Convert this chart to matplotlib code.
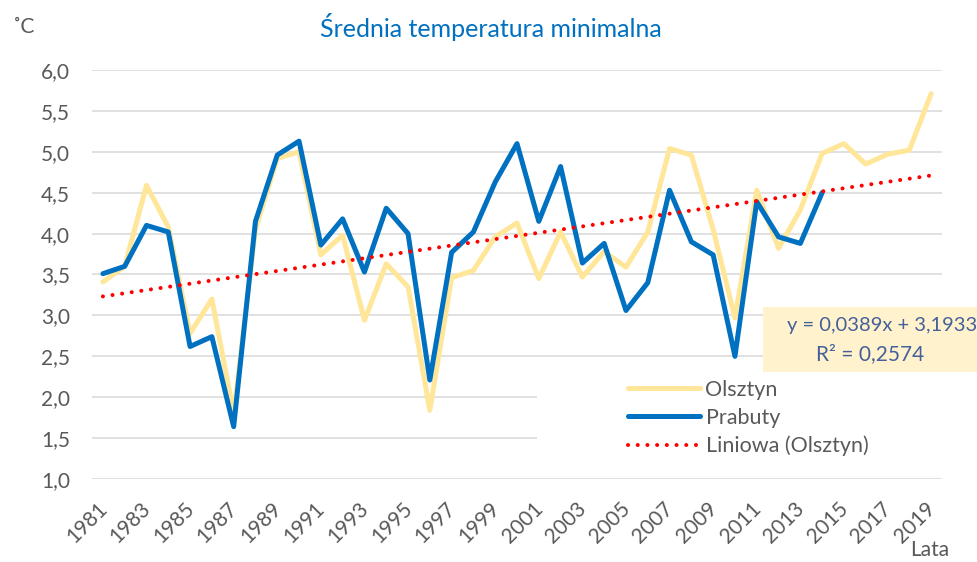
import matplotlib.pyplot as plt
import matplotlib.transforms as mtransforms
from matplotlib.patches import Rectangle
import numpy as np

plt.rcParams['font.family'] = ['Lato', 'DejaVu Sans']

years = list(range(1981, 2020))
olsztyn = [3.41, 3.60, 4.59, 4.08, 2.78, 3.20, 1.80, 4.05, 4.92, 5.00,
           3.74, 3.98, 2.94, 3.63, 3.35, 1.84, 3.46, 3.55, 3.96, 4.13,
           3.45, 4.02, 3.47, 3.78, 3.59, 4.02, 5.04, 4.96, 4.05, 2.97,
           4.53, 3.82, 4.29, 4.98, 5.10, 4.85, 4.97, 5.02, 5.71]
prabuty = [3.51, 3.60, 4.10, 4.02, 2.62, 2.74, 1.64, 4.15, 4.96, 5.13,
           3.86, 4.18, 3.53, 4.31, 4.00, 2.21, 3.77, 4.02, 4.63, 5.10,
           4.15, 4.82, 3.64, 3.88, 3.06, 3.40, 4.53, 3.90, 3.74, 2.50,
           4.39, 3.96, 3.88, 4.50]
SLOPE = 0.0389
INTERCEPT = 3.1933
R2 = 0.2574

GREY = '#595959'

fig = plt.figure(figsize=(9.77, 5.62), dpi=100)
ax = fig.add_axes([92 / 977, 1 - 479 / 562, 850 / 977, 409 / 562])

idx = np.arange(1, len(years) + 1)
trend = SLOPE * idx + INTERCEPT

ax.plot(years, olsztyn, color='#FFE699', lw=3.6, solid_joinstyle='round',
        solid_capstyle='round', label='Olsztyn', zorder=3)
ax.plot(years[:len(prabuty)], prabuty, color='#0070C0', lw=3.6, solid_joinstyle='round',
        solid_capstyle='round', label='Prabuty', zorder=4)
ax.plot(years, trend, color='#FF0000', lw=2.9, linestyle=(0, (0.01, 2.4)),
        dash_capstyle='round', label='Liniowa (Olsztyn)', zorder=5)

ax.set_xlim(1980.5, 2019.5)
ax.set_ylim(1.0, 6.0)
ax.set_yticks(np.arange(1.0, 6.01, 0.5))
ax.set_yticklabels([f'{v:.1f}'.replace('.', ',') for v in np.arange(1.0, 6.01, 0.5)])
ax.set_xticks(years[::2])
ax.set_xticklabels([str(y) for y in years[::2]], rotation=45, ha='right', va='top')

ax.grid(axis='y', color='#D9D9D9', lw=1.1)
ax.set_axisbelow(True)
for s in ax.spines.values():
    s.set_visible(False)
ax.tick_params(axis='both', length=0, labelsize=15, labelcolor=GREY)
ax.tick_params(axis='x', pad=14)
ax.tick_params(axis='y', pad=16)

offset = mtransforms.ScaledTranslation(8 / 100, 0, fig.dpi_scale_trans)
for lab in ax.get_xticklabels():
    lab.set_transform(lab.get_transform() + offset)

# white block behind the legend hides part of the grid
ax.add_patch(Rectangle((0.5235, 0.04), 0.4765, 0.22, transform=ax.transAxes,
                       facecolor='white', edgecolor='none', zorder=1))

leg = ax.legend(loc='center left', bbox_to_anchor=(628 / 977, 1 - 418 / 562),
                bbox_transform=fig.transFigure, frameon=False, fontsize=15.5,
                handlelength=3.35, handletextpad=0.25, labelspacing=0.38,
                borderpad=0, borderaxespad=0)
for t in leg.get_texts():
    t.set_color(GREY)

# trendline equation box
fig.add_artist(Rectangle((763 / 977, 1 - 372 / 562), 214 / 977, 65 / 562,
                         transform=fig.transFigure, facecolor='#FFF2CC',
                         edgecolor='none', zorder=1))
eq_col = '#44609A'
fig.text(882 / 977, 1 - 326 / 562, 'y = 0,0389x + 3,1933', ha='center', va='center',
         fontsize=14.5, color=eq_col, zorder=2)
fig.text(870 / 977, 1 - 354 / 562, 'R² = 0,2574', ha='center', va='center',
         fontsize=15, color=eq_col, zorder=2)

fig.text(491 / 977, 1 - 37 / 562, 'Średnia temperatura minimalna', ha='center',
         va='baseline', fontsize=18, color='#0070C0')
fig.text(13 / 977, 1 - 33 / 562, '˚C', ha='left', va='baseline', fontsize=15, color=GREY)
fig.text(930 / 977, 1 - 556 / 562, 'Lata', ha='center', va='baseline', fontsize=15, color=GREY)

fig.savefig('out.png', dpi=100)
